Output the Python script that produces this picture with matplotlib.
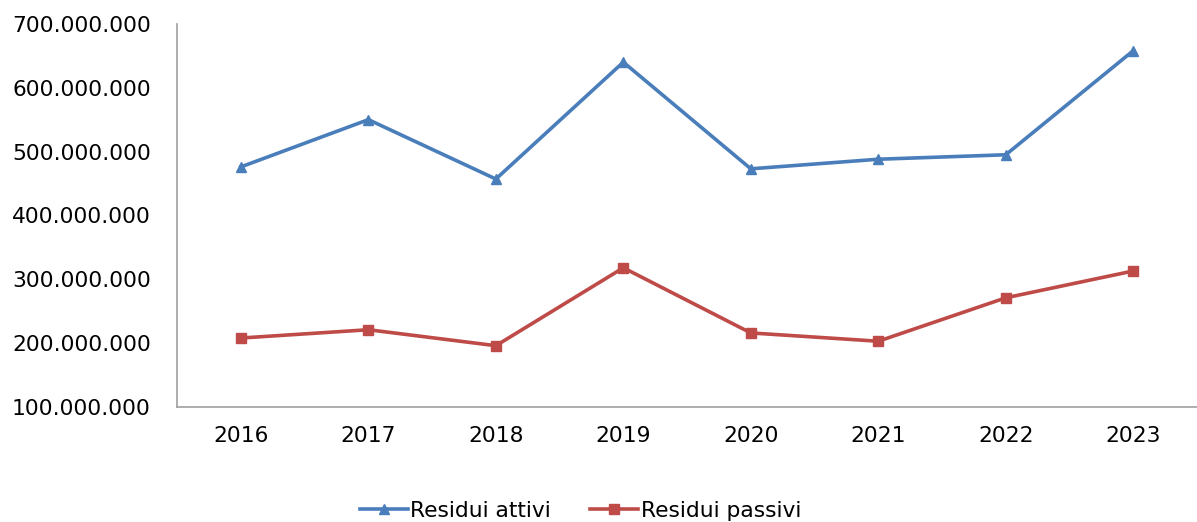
import numpy as np
import matplotlib.pyplot as plt
from matplotlib.ticker import FuncFormatter

# Data
years = ['2016', '2017', '2018', '2019', '2020', '2021', '2022', '2023']
attivi = [476e6, 550e6, 457e6, 640e6, 473e6, 488e6, 495e6, 658e6]
passivi = [208e6, 221e6, 196e6, 318e6, 216e6, 203e6, 271e6, 313e6]

blue = '#4A7EBB'
red = '#BE4B48'

plt.rcParams['font.family'] = 'DejaVu Sans'

fig = plt.figure(figsize=(11.97, 5.22), dpi=100)
ax = fig.add_axes([0.148, 0.2203, 0.852, 0.734])

x = np.arange(len(years))
ax.plot(x, attivi, color=blue, lw=2.6, marker='^', ms=7.5, label='Residui attivi')
ax.plot(x, passivi, color=red, lw=2.6, marker='s', ms=7, label='Residui passivi')

ax.set_xlim(-0.5, len(years) - 0.5)
ax.set_ylim(100e6, 700e6)
ax.set_yticks(np.arange(100e6, 700e6 + 1, 100e6))
ax.yaxis.set_major_formatter(FuncFormatter(lambda v, p: f'{int(v):,}'.replace(',', '.')))
ax.set_xticks(x)
ax.set_xticklabels(years)

ax.tick_params(axis='y', length=0, pad=19, labelsize=15.7, labelcolor='black')
ax.tick_params(axis='x', length=0, pad=14, labelsize=15.7, labelcolor='black')

for s in ['top', 'right']:
    ax.spines[s].set_visible(False)
for s in ['left', 'bottom']:
    ax.spines[s].set_color('#A0A0A0')
    ax.spines[s].set_linewidth(1.2)

fig.legend(loc='center', bbox_to_anchor=(0.485, 0.022), ncol=2, frameon=False,
           fontsize=15.7, handlelength=2.2, handletextpad=0.1, columnspacing=1.8)

fig.savefig('out.png', dpi=100)
